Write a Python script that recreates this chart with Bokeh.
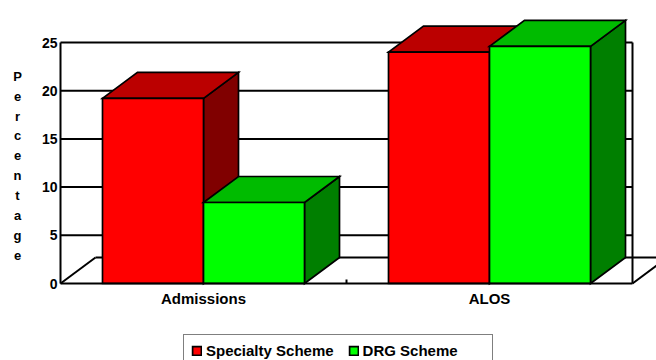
from bokeh.plotting import figure
from bokeh.models import (ColumnDataSource, LinearAxis, FixedTicker, Range1d,
                          Legend, LegendItem)
from bokeh.core.properties import value
from bokeh.embed import file_html
from bokeh.resources import INLINE

# ---------------- data ----------------
categories = ["Admissions", "ALOS"]
series_names = ["Specialty Scheme", "DRG Scheme"]
specialty = [19.2, 24.0]
drg = [8.4, 24.6]
y_ticks = [0, 5, 10, 15, 20, 25]
axis_title = "Percentage"

# ---------------- style ----------------
front_colors = ["#FF0000", "#00FF00"]
top_colors = ["#BB0000", "#00BB00"]
side_colors = ["#800000", "#007F00"]
FONT_NAME = "Liberation Sans"

W, H = 656, 360
PX_X = 286.0   # pixels per category slot
PX_Y = 9.64    # pixels per percentage point
X0_PX = 60     # pixel column of x = 0.5 (value axis)
Y0_PX = 283    # pixel row of y = 0

x_start = 0.5 - X0_PX / PX_X
x_end = x_start + W / PX_X
y_end = Y0_PX / PX_Y
y_start = y_end - H / PX_Y

bar_w = 101 / PX_X
depth_x = 35 / PX_X
depth_y = 26 / PX_Y
wall_l, wall_r = 0.5, 0.5 + len(categories)
y_top = y_ticks[-1]

p = figure(width=W, height=H, output_backend="svg", toolbar_location=None,
           x_range=Range1d(x_start, x_end), y_range=Range1d(y_start, y_end),
           x_axis_type=None, y_axis_type=None, min_border=0,
           outline_line_color=None, background_fill_color="white",
           border_fill_color="white")
p.xgrid.visible = False
p.ygrid.visible = False

# floor (behind the bars)
p.segment(x0=[wall_l, wall_l + depth_x, wall_r],
          y0=[0, depth_y, 0],
          x1=[wall_l + depth_x, wall_r + depth_x, wall_r + depth_x],
          y1=[depth_y, depth_y, depth_y],
          line_color="black", line_width=2)

# grid lines and right wall
gy = y_ticks[1:]
p.segment(x0=[wall_l] * len(gy), y0=gy, x1=[wall_r] * len(gy), y1=gy,
          line_color="black", line_width=2)
p.segment(x0=[wall_r], y0=[0], x1=[wall_r], y1=[y_top],
          line_color="black", line_width=2)


def faces(values, s):
    xs, ys, cols = [], [], []
    for i, v in enumerate(values):
        c = i + 1
        x0 = c - bar_w + s * bar_w
        x1 = x0 + bar_w
        xs.append([x1, x1 + depth_x, x1 + depth_x, x1])
        ys.append([0, depth_y, v + depth_y, v])
        cols.append(side_colors[s])
        xs.append([x0, x1, x1 + depth_x, x0 + depth_x])
        ys.append([v, v, v + depth_y, v + depth_y])
        cols.append(top_colors[s])
        xs.append([x0, x1, x1, x0])
        ys.append([0, 0, v, v])
        cols.append(front_colors[s])
    return ColumnDataSource(dict(xs=xs, ys=ys, color=cols))


renderers = []
for s, vals in enumerate([specialty, drg]):
    r = p.patches("xs", "ys", source=faces(vals, s), fill_color="color",
                  line_color="black", line_width=1.7, line_join="miter")
    renderers.append(r)

# value axis
yaxis = LinearAxis(ticker=FixedTicker(ticks=y_ticks), bounds=(0, y_top),
                   fixed_location=wall_l, axis_line_width=2,
                   axis_line_color="black",
                   major_tick_in=0, major_tick_out=0,
                   minor_tick_line_color=None,
                   major_label_text_font=FONT_NAME,
                   major_label_text_font_style="bold",
                   major_label_text_font_size="14px",
                   major_label_text_color="black",
                   major_label_standoff=3)
p.add_layout(yaxis, "left")

# category axis
xaxis = LinearAxis(ticker=FixedTicker(ticks=[1, 2], minor_ticks=[1.5]),
                   bounds=(wall_l, wall_r), fixed_location=0,
                   major_label_overrides={i + 1: c for i, c in enumerate(categories)},
                   axis_line_width=2, axis_line_color="black",
                   major_tick_in=0, major_tick_out=0,
                   minor_tick_in=4, minor_tick_out=0,
                   minor_tick_line_width=2, minor_tick_line_color="black",
                   major_label_text_font=FONT_NAME,
                   major_label_text_font_style="bold",
                   major_label_text_font_size="15px",
                   major_label_text_color="black",
                   major_label_standoff=6)
p.add_layout(xaxis, "below")

# stacked axis title
p.text(x=[wall_l - 43 / PX_X], y=[12.2], text=["\n".join(axis_title)],
       text_font=value(FONT_NAME), text_font_style="bold", text_font_size="13px",
       text_align="center", text_baseline="middle", text_line_height=1.33,
       text_color="black")

legend = Legend(items=[LegendItem(label=series_names[0], renderers=[renderers[0]], index=2),
                       LegendItem(label=series_names[1], renderers=[renderers[1]], index=2)],
                orientation="horizontal", location=(183, -7),
                label_text_font=FONT_NAME, label_text_font_style="bold",
                label_text_font_size="15px", label_text_color="black",
                glyph_width=11, glyph_height=11, label_standoff=4,
                spacing=14, padding=7, label_width=122, label_height=14,
                border_line_color="black", border_line_width=1.5,
                background_fill_color="white", background_fill_alpha=1,
                margin=0)
p.add_layout(legend)

open("out.html", "w").write(file_html(p, INLINE))
